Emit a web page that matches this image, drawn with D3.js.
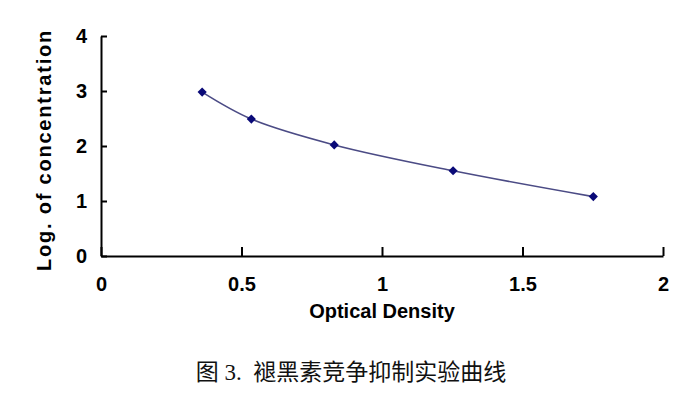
<!DOCTYPE html>
<html>
<head>
<meta charset="utf-8">
<script src="https://cdn.jsdelivr.net/npm/d3@7"></script>
<style>
  body { margin: 0; background: #fff; }
</style>
</head>
<body>
<div id="chart"></div>
<script>
// values
var opticalDensity = [0.36, 0.535, 0.83, 1.253, 1.752];
var logConc = [2.98, 2.49, 2.02, 1.55, 1.08];
var xTicks = [0, 0.5, 1, 1.5, 2];
var yTicks = [0, 1, 2, 3, 4];
var xTitle = "Optical Density";
var yTitle = "Log. of concentration";
var caption = "图 3.  褪黑素竞争抑制实验曲线";

var width = 687, height = 398;
var plotLeft = 101, plotRight = 663, plotTop = 36, plotBottom = 256; //plot edges
var font = "'Liberation Sans', Arial, sans-serif";

var svg = d3.select("#chart").append("svg")
    .attr("width", width)
    .attr("height", height);

var x = d3.scaleLinear().domain([0, 2]).range([plotLeft, plotRight]);
var y = d3.scaleLinear().domain([0, 4]).range([plotBottom, plotTop]);

var plain = function (d) { return d; };

//axes, ticks point inward
var xAxis = svg.append("g")
    .attr("transform", "translate(0," + plotBottom + ")")
    .call(d3.axisBottom(x).tickValues(xTicks).tickSize(-9).tickPadding(21).tickSizeOuter(0)
        .tickFormat(plain));

var yAxis = svg.append("g")
    .attr("transform", "translate(" + plotLeft + ",0)")
    .call(d3.axisLeft(y).tickValues(yTicks).tickSize(-6).tickPadding(14).tickSizeOuter(0)
        .tickFormat(plain));

svg.selectAll(".domain, .tick line")
    .attr("stroke", "#000")
    .attr("stroke-width", 2);

svg.selectAll(".tick text")
    .style("font-family", font)
    .style("font-weight", "bold")
    .style("font-size", "20px")
    .attr("fill", "#000");

//smoothed curve
var pts = opticalDensity.map(function (d, i) { return [d, logConc[i]]; });

var line = d3.line()
    .x(function (d) { return x(d[0]); })
    .y(function (d) { return y(d[1]); })
    .curve(d3.curveCatmullRom.alpha(0.5));

svg.append("path")
    .datum(pts)
    .attr("d", line)
    .attr("fill", "none")
    .attr("stroke", "#4b4b85")
    .attr("stroke-width", 1.6);

//diamond markers
svg.append("g").selectAll("path")
    .data(pts)
    .enter().append("path")
    .attr("transform", function (d) { return "translate(" + x(d[0]) + "," + y(d[1]) + ") rotate(45)"; })
    .attr("d", d3.symbol().type(d3.symbolSquare).size(42))
    .attr("fill", "#0a0a78");

//titles
svg.append("text")
    .attr("x", (plotLeft + plotRight) / 2)
    .attr("y", 318)
    .attr("text-anchor", "middle")
    .style("font-family", font)
    .style("font-weight", "bold")
    .style("font-size", "20px")
    .text(xTitle);

svg.append("text")
    .attr("transform", "translate(51,150) rotate(-90)")
    .attr("text-anchor", "middle")
    .style("font-family", font)
    .style("font-weight", "bold")
    .style("font-size", "20px")
    .style("letter-spacing", "1.8px")
    .text(yTitle);

svg.append("text")
    .attr("x", 351)
    .attr("y", 380)
    .attr("text-anchor", "middle")
    .style("font-family", "'Liberation Serif', 'Noto Sans CJK SC', serif")
    .style("font-size", "23px")
    .style("white-space", "pre")
    .attr("fill", "#111")
    .text(caption);
</script>
</body>
</html>
